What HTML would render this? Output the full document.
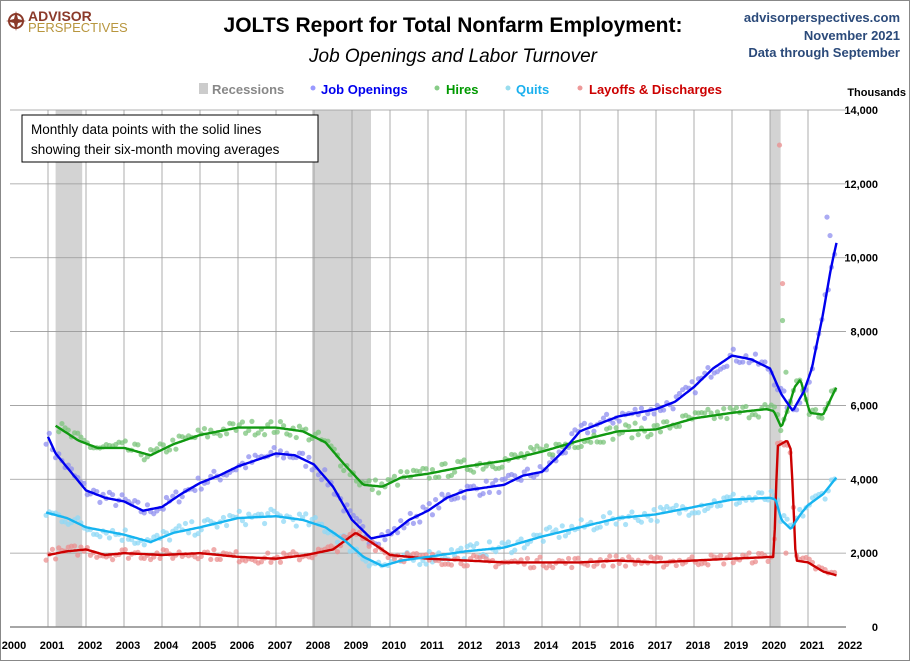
<!DOCTYPE html><html><head><style>
body{margin:0;background:#fff}
svg text{font-family:"Liberation Sans",sans-serif}
</style></head><body>
<svg id="s" width="910" height="661" xmlns="http://www.w3.org/2000/svg">
<rect x="0.5" y="0.5" width="909" height="660" fill="#fff" stroke="#888"/>
<g id="bg"></g>
<g id="dots"></g>
<g id="lines"></g>
<circle cx="16" cy="21" r="7" fill="none" stroke="#8b3a2a" stroke-width="2"/>
<path d="M16 11 L18 19 L26 21 L18 23 L16 31 L14 23 L6 21 L14 19Z" fill="#8b3a2a"/>
<text x="28" y="21" font-size="14" font-weight="bold" fill="#8b3a2a">ADVISOR</text>
<text x="28" y="32" font-size="13" fill="#b8963e">PERSPECTIVES</text>
<text x="453" y="32" font-size="21" text-anchor="middle" font-weight="bold">JOLTS Report for Total Nonfarm Employment:</text>
<text x="453" y="62" font-size="19" text-anchor="middle" font-style="italic">Job Openings and Labor Turnover</text>
<text x="900" y="22" font-size="13" text-anchor="end" font-weight="bold" fill="#2b4a7a">advisorperspectives.com</text>
<text x="900" y="40" font-size="13" text-anchor="end" font-weight="bold" fill="#2b4a7a">November 2021</text>
<text x="900" y="57" font-size="13" text-anchor="end" font-weight="bold" fill="#2b4a7a">Data through September</text>
<g font-size="13" font-weight="bold">
<rect x="199" y="83" width="9" height="11" fill="#ccc"/><text x="212" y="94" fill="#888">Recessions</text>
<circle cx="313" cy="88" r="2.5" fill="#99f"/><text x="321" y="94" fill="#0000ee">Job Openings</text>
<circle cx="437" cy="88" r="2.5" fill="#8c8"/><text x="446" y="94" fill="#090">Hires</text>
<circle cx="508" cy="88" r="2.5" fill="#9de"/><text x="516" y="94" fill="#1ab0ee">Quits</text>
<circle cx="580" cy="88" r="2.5" fill="#e99"/><text x="589" y="94" fill="#c00">Layoffs &amp; Discharges</text>
</g>
<text x="906" y="96" font-size="11" text-anchor="end" font-weight="bold">Thousands</text>
<rect x="22" y="115" width="296" height="47" fill="#fff" stroke="#000"/>
<text x="31" y="134" font-size="13.5">Monthly data points with the solid lines</text>
<text x="31" y="154" font-size="13.5">showing their six-month moving averages</text>
</svg>
<script>
const X=y=>10+38*(y-2000), Y=v=>627-v*(517/14000);
const ns="http://www.w3.org/2000/svg";
function el(p,t,a){const e=document.createElementNS(ns,t);for(const k in a)e.setAttribute(k,a[k]);document.getElementById(p).appendChild(e);return e;}
[[2001.2,2001.9],[2007.95,2009.5],[2020.0,2020.28]].forEach(r=>el("bg","rect",{x:X(r[0]),y:110,width:X(r[1])-X(r[0]),height:517,fill:"#d3d3d3"}));
for(let y=2001;y<=2021;y++)el("bg","line",{x1:X(y),x2:X(y),y1:110,y2:627,stroke:"#999","stroke-width":0.8});
for(let v=2000;v<=14000;v+=2000)el("bg","line",{x1:10,x2:X(2022),y1:Y(v),y2:Y(v),stroke:"#999","stroke-width":0.8});
el("bg","line",{x1:10,x2:X(2022),y1:627,y2:627,stroke:"#888","stroke-width":1.5});
for(let v=0;v<=14000;v+=2000){const t=el("bg","text",{x:878,y:Y(v)+4,"font-size":11,"font-weight":"bold","text-anchor":"end"});t.textContent=v?v.toLocaleString("en-US"):"0";}
for(let y=2000;y<=2022;y++){const t=el("bg","text",{x:X(y)+4,y:649,"font-size":11,"font-weight":"bold","text-anchor":"middle"});t.textContent=y;}
const S={
jo:[[2001,5150],[2001.2,4700],[2002,3700],[2002.5,3500],[2003,3400],[2003.5,3150],[2004,3250],[2004.5,3600],[2005,3900],[2005.5,4100],[2006,4350],[2007,4700],[2007.5,4650],[2008,4400],[2008.5,3800],[2009,2900],[2009.5,2400],[2010,2500],[2010.5,2900],[2011,3150],[2011.5,3500],[2012,3700],[2013,3850],[2013.5,4100],[2014,4200],[2014.5,4700],[2015,5300],[2015.5,5500],[2016,5700],[2016.5,5800],[2017,5900],[2017.5,6100],[2018,6500],[2018.5,7000],[2019,7350],[2019.5,7250],[2020,7000],[2020.3,6300],[2020.6,5850],[2020.9,6400],[2021.1,7000],[2021.4,8500],[2021.6,9700],[2021.75,10400]],
hi:[[2001.2,5450],[2001.8,5050],[2002.3,4850],[2003,4850],[2003.7,4650],[2004.3,4950],[2005,5200],[2006,5400],[2007,5400],[2007.7,5300],[2008.3,5000],[2008.8,4400],[2009.3,3850],[2009.8,3800],[2010.3,4050],[2011,4150],[2012,4350],[2013,4500],[2014,4750],[2015,5050],[2016,5300],[2017,5350],[2018,5650],[2019,5800],[2019.9,5900],[2020.1,5850],[2020.3,5400],[2020.5,6000],[2020.65,6500],[2020.8,6700],[2021.05,5800],[2021.4,5750],[2021.75,6500]],
qu:[[2000.95,3100],[2001.5,2950],[2002,2700],[2003,2500],[2003.7,2300],[2004.3,2550],[2005,2700],[2006,2950],[2007,3000],[2007.7,2900],[2008.3,2700],[2008.8,2350],[2009.3,1900],[2009.8,1650],[2010.3,1800],[2011,1900],[2012,2050],[2013,2150],[2014,2450],[2015,2700],[2016,2950],[2017,3050],[2018,3250],[2019,3450],[2020,3500],[2020.15,3450],[2020.3,2900],[2020.55,2650],[2020.8,3050],[2021,3300],[2021.4,3600],[2021.75,4050]],
lo:[[2001,1950],[2001.5,2050],[2002,2100],[2002.5,1950],[2003,2000],[2004,1950],[2005,2000],[2006,1900],[2007,1850],[2007.8,1950],[2008.5,2100],[2009.1,2550],[2009.5,2300],[2010,1950],[2010.5,1900],[2011,1850],[2012,1800],[2013,1750],[2014,1750],[2015,1750],[2016,1800],[2017,1750],[2018,1800],[2019,1850],[2020.1,1900],[2020.2,4900],[2020.45,5050],[2020.55,4800],[2020.68,1800],[2021,1750],[2021.4,1500],[2021.75,1400]]};
const C={jo:["#0000ee","#8f8fef"],hi:["#119911","#7cc47c"],qu:["#16b4f0","#8fd8f5"],lo:["#cc0000","#eb8f8f"]};
function interp(p,x){if(x<=p[0][0])return p[0][1];for(let i=1;i<p.length;i++)if(x<=p[i][0]){const a=p[i-1],b=p[i];return a[1]+(b[1]-a[1])*(x-a[0])/(b[0]-a[0]);}return p[p.length-1][1];}
let seed=7;const rnd=()=>{seed=(seed*16807)%2147483647;return seed/2147483647;};
const extra={lo:[[2020.25,13050],[2020.33,9300],[2020.42,2000]],hi:[[2020.33,8300],[2020.42,6900]],jo:[[2021.5,11100],[2021.58,10600]]};
for(const k in S){const p=S[k];
 for(let x=2000.95;x<=2021.75;x+=1/12){const v=interp(p,x)+(rnd()-0.5)*(k=="lo"?300:400);
  if(k=="hi"&&x<p[0][0])continue;
  el("dots","circle",{cx:X(x),cy:Y(v),r:2.6,fill:C[k][1],"fill-opacity":0.75});}
 (extra[k]||[]).forEach(e=>el("dots","circle",{cx:X(e[0]),cy:Y(e[1]),r:2.6,fill:C[k][1],"fill-opacity":0.75}));
}
for(const k of ["lo","qu","hi","jo"]){const p=S[k];let d="";
 for(let x=p[0][0];x<=2021.751;x+=1/24)d+=(d?"L":"M")+X(x).toFixed(1)+" "+Y(interp(p,x)).toFixed(1);
 el("lines","path",{d:d,fill:"none",stroke:C[k][0],"stroke-width":2.4,"stroke-linejoin":"round"});}
</script>
</body></html>
